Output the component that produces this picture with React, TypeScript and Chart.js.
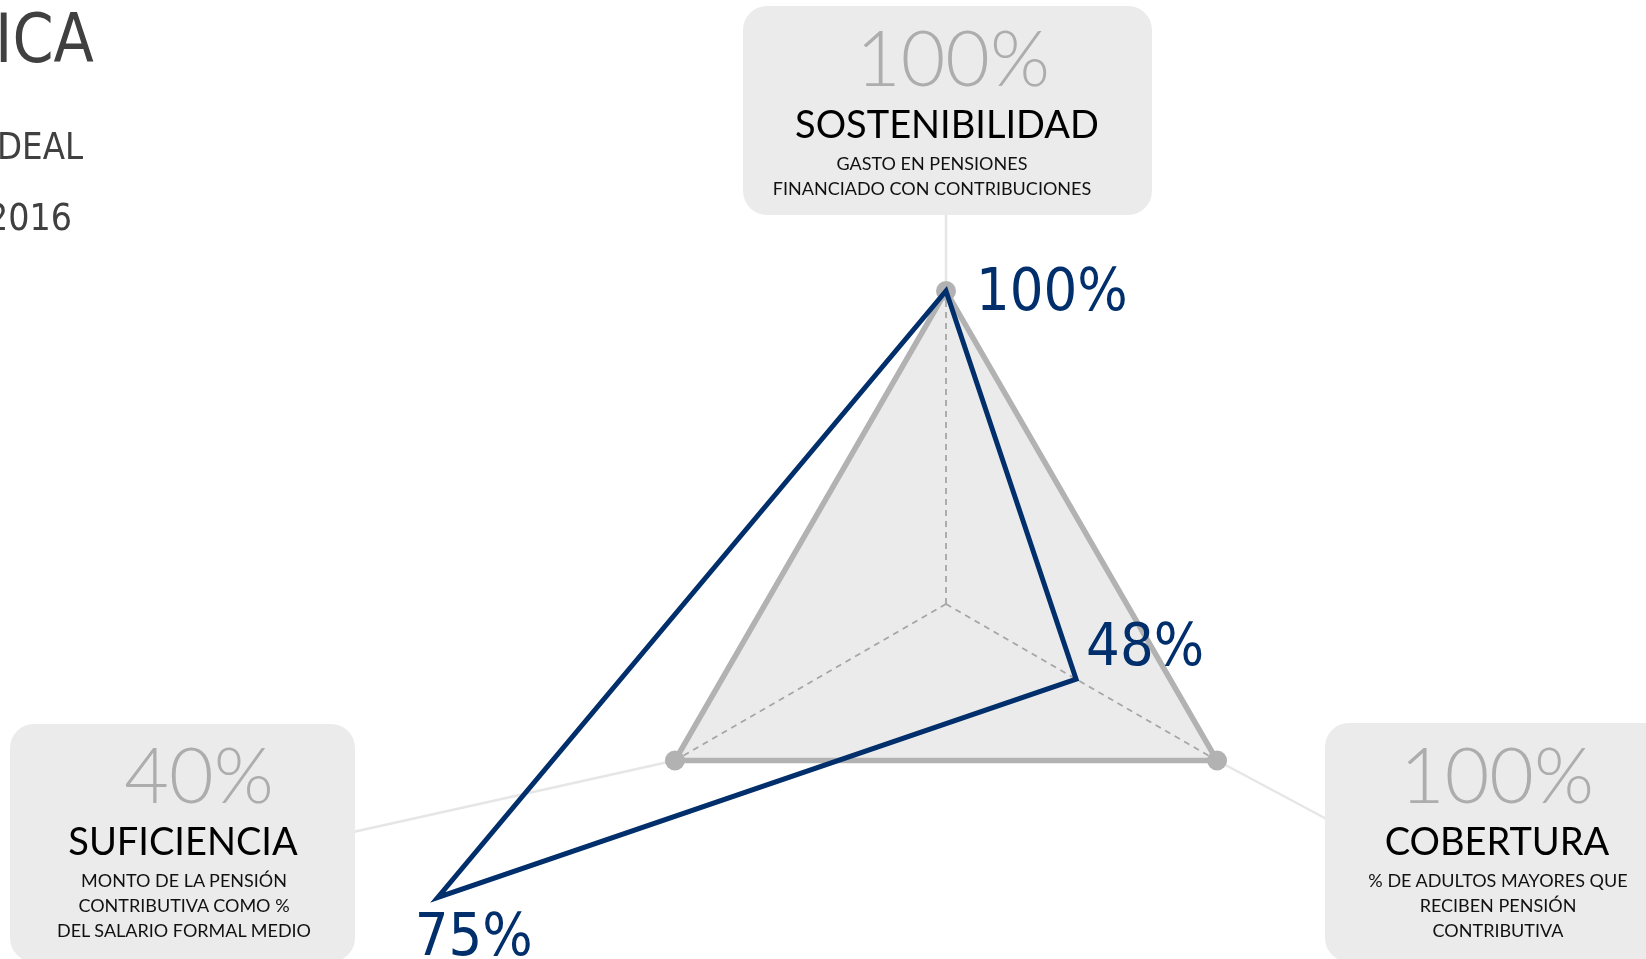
import React, { useEffect, useRef } from 'react';
import { Chart, registerables } from 'chart.js';

Chart.register(...registerables);

// ---------- data ----------
const categories = ['SOSTENIBILIDAD', 'COBERTURA', 'SUFICIENCIA'];
const descriptions = [
  ['GASTO EN PENSIONES', 'FINANCIADO CON CONTRIBUCIONES'],
  ['% DE ADULTOS MAYORES QUE', 'RECIBEN PENSIÓN', 'CONTRIBUTIVA'],
  ['MONTO DE LA PENSIÓN', 'CONTRIBUTIVA COMO %', 'DEL SALARIO FORMAL MEDIO'],
];
const idealValues = [100, 100, 40];
const actualValues = [100, 48, 75];
const titleLines = ['ICA', 'DEAL', '2016'];

// ---------- layout / style ----------
const W = 1646;
const H = 959;
const CX = 946;
const CY = 604;
const R = 313;

const BLUE = '#002f6c';
const GRAY_LINE = '#b2b2b2';
const BOX_BG = '#ebebeb';

type Box = {
  left: number; top: number; width: number; height: number;
  anchor: [number, number];
  bigX: number; titleX: number; subX: number;
  bigY: number; titleY: number; subY: number[];
};

const BOXES: Box[] = [
  { left: 743, top: 6, width: 409, height: 209, anchor: [946, 110], bigX: 953, titleX: 947, subX: 932, bigY: 86, titleY: 138, subY: [170, 195] },
  { left: 1325, top: 723, width: 344, height: 239, anchor: [1497, 910], bigX: 1497, titleX: 1497, subX: 1498, bigY: 803, titleY: 855, subY: [887, 912, 937] },
  { left: 10, top: 724, width: 345, height: 238, anchor: [182, 870], bigX: 199, titleX: 183, subX: 184, bigY: 803, titleY: 855, subY: [887, 912, 937] },
];

const VALUE_LABEL_OFFSETS: [number, number][] = [[30, 19], [10, -14], [-23, 58]];

const TITLE_POS = [
  { left: -5, baseline: 62, size: 67 },
  { left: -3, baseline: 159, size: 37 },
  { left: -13, baseline: 230, size: 38 },
];

// ---------- helpers ----------
function BaselineText(props: {
  x: number; y: number; align: 'left' | 'center'; text: string;
  style: React.CSSProperties; scaleX?: number;
}) {
  const STRUT = 300;
  const { x, y, align, text, style, scaleX } = props;
  const wrap: React.CSSProperties = {
    position: 'absolute',
    top: y - STRUT,
    height: STRUT,
    display: 'flex',
    alignItems: 'baseline',
    whiteSpace: 'nowrap',
    ...(align === 'center'
      ? { left: x - 600, width: 1200, justifyContent: 'center' }
      : { left: x }),
  };
  return (
    <div style={wrap}>
      <div style={{ height: STRUT, width: 0 }} />
      <span
        style={{
          ...style,
          display: 'inline-block',
          lineHeight: 'normal',
          transform: scaleX ? `scaleX(${scaleX})` : undefined,
          transformOrigin: align === 'center' ? 'center' : 'left',
        }}
      >
        {text}
      </span>
    </div>
  );
}

const connectorPlugin = {
  id: 'connectors',
  beforeDatasetsDraw(chart: any) {
    const meta = chart.getDatasetMeta(1);
    const ctx = chart.ctx;
    ctx.save();
    ctx.strokeStyle = '#e6e6e6';
    ctx.lineWidth = 2.5;
    meta.data.forEach((pt: any, i: number) => {
      ctx.beginPath();
      ctx.moveTo(pt.x, pt.y);
      ctx.lineTo(BOXES[i].anchor[0], BOXES[i].anchor[1]);
      ctx.stroke();
    });
    ctx.restore();
  },
};

const valueLabelPlugin = {
  id: 'valueLabels',
  afterDatasetsDraw(chart: any) {
    const meta = chart.getDatasetMeta(0);
    const ctx = chart.ctx;
    ctx.save();
    ctx.font = '59px "DejaVu Sans", Verdana, sans-serif';
    ctx.fillStyle = BLUE;
    ctx.textAlign = 'left';
    ctx.textBaseline = 'alphabetic';
    meta.data.forEach((pt: any, i: number) => {
      const [dx, dy] = VALUE_LABEL_OFFSETS[i];
      ctx.save();
      ctx.translate(pt.x + dx, pt.y + dy);
      ctx.scale(0.9, 1);
      ctx.fillText(`${actualValues[i]}%`, 0, 0);
      ctx.restore();
    });
    ctx.restore();
  },
};

export default function App() {
  const canvasRef = useRef<HTMLCanvasElement | null>(null);

  useEffect(() => {
    if (!canvasRef.current) return;
    const idealNorm = idealValues.map((v) => v / v);
    const actualNorm = actualValues.map((v, i) => v / idealValues[i]);
    const chart = new Chart(canvasRef.current, {
      type: 'radar',
      data: {
        labels: categories,
        datasets: [
          {
            label: 'Actual',
            data: actualNorm,
            borderColor: BLUE,
            borderWidth: 5,
            borderJoinStyle: 'miter',
            backgroundColor: 'transparent',
            fill: false,
            pointRadius: 0,
            pointHoverRadius: 0,
            tension: 0,
            clip: false,
          } as any,
          {
            label: 'Ideal',
            data: idealNorm,
            borderColor: GRAY_LINE,
            borderWidth: 5.5,
            backgroundColor: 'rgba(0,0,0,0.08)',
            fill: true,
            pointRadius: 10,
            pointHoverRadius: 10,
            pointBackgroundColor: GRAY_LINE,
            pointBorderWidth: 0,
            tension: 0,
            clip: false,
          } as any,
        ],
      },
      options: {
        responsive: true,
        maintainAspectRatio: false,
        animation: false,
        events: [],
        layout: {
          padding: { left: CX - R, right: W - (CX + R), top: CY - R, bottom: H - (CY + R) },
        },
        plugins: {
          legend: { display: false },
          tooltip: { enabled: false },
        },
        scales: {
          r: {
            min: 0,
            max: 1,
            ticks: { display: false },
            grid: { display: false },
            pointLabels: { display: false },
            angleLines: {
              display: true,
              color: '#b4b4b4',
              lineWidth: 1.8,
              borderDash: [6, 5],
            },
          },
        },
      } as any,
      plugins: [connectorPlugin, valueLabelPlugin],
    });
    return () => chart.destroy();
  }, []);

  const bigStyle: React.CSSProperties = {
    fontFamily: 'Lato, "Open Sans", sans-serif',
    fontWeight: 300,
    fontSize: 77,
    color: '#adadad',
  };
  const catStyle: React.CSSProperties = {
    fontFamily: 'Lato, "Open Sans", sans-serif',
    fontWeight: 400,
    fontSize: 38,
    color: '#000',
  };
  const subStyle: React.CSSProperties = {
    fontFamily: 'Lato, "Open Sans", sans-serif',
    fontWeight: 400,
    fontSize: 18,
    color: '#111',
  };

  return (
    <div
      style={{
        position: 'fixed',
        left: 0,
        top: 0,
        width: W,
        height: H,
        overflow: 'hidden',
        background: '#fff',
      }}
    >
      <div style={{ position: 'absolute', left: 0, top: 0, width: W, height: H }}>
        <canvas ref={canvasRef} />
      </div>

      {BOXES.map((b, i) => (
        <div
          key={'box' + i}
          style={{
            position: 'absolute',
            left: b.left,
            top: b.top,
            width: b.width,
            height: b.height,
            background: BOX_BG,
            borderRadius: 24,
          }}
        />
      ))}

      {BOXES.map((b, i) => (
        <React.Fragment key={'txt' + i}>
          <BaselineText x={b.bigX} y={b.bigY} align="center" text={`${idealValues[i]}%`} style={bigStyle} />
          <BaselineText x={b.titleX} y={b.titleY} align="center" text={categories[i]} style={catStyle} />
          {descriptions[i].map((line, j) => (
            <BaselineText key={j} x={b.subX} y={b.subY[j]} align="center" text={line} style={subStyle} />
          ))}
        </React.Fragment>
      ))}

      {titleLines.map((t, i) => (
        <BaselineText
          key={'title' + i}
          x={TITLE_POS[i].left}
          y={TITLE_POS[i].baseline}
          align="left"
          text={t}
          scaleX={0.88}
          style={{
            fontFamily: '"DejaVu Sans", Verdana, sans-serif',
            fontSize: TITLE_POS[i].size,
            color: '#404040',
          }}
        />
      ))}
    </div>
  );
}
